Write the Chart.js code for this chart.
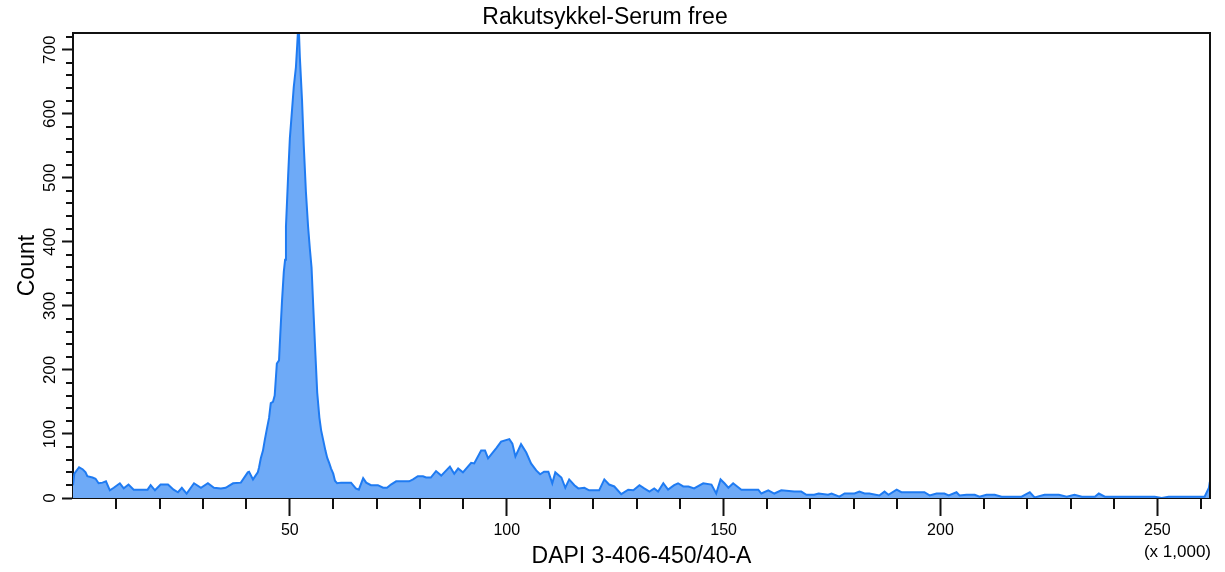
<!DOCTYPE html>
<html><head><meta charset="utf-8">
<script src="https://cdn.jsdelivr.net/npm/chart.js@4.4.1/dist/chart.umd.min.js"></script>
<style>html,body{margin:0;padding:0;background:#fff;}#wrap{width:1225px;height:572px;position:relative;}</style>
</head><body><div id="wrap"><canvas id="c" width="1225" height="572"></canvas></div>
<script>
const chartTitle = 'Rakutsykkel-Serum free';
const xAxisTitle = 'DAPI 3-406-450/40-A';
const yAxisTitle = 'Count';
const xUnitNote = '(x 1,000)';
const xMajorTicks = [50, 100, 150, 200, 250];
const yMajorTicks = [0, 100, 200, 300, 400, 500, 600, 700];
const xMinorStep = 10;
const yMinorStep = 20;
const xMax = 262.144;
const yMax = 726;

// DAPI (x 1,000) and counts, segment by segment
const subG1X = [0,0.3,1.4,2.2,2.9,3.3,4.5,5.2,5.9,6.8,7.6,8.5,9.4,10.8,11.7,12.8,14.0,15.6,17.2,17.9,18.9,20.2,21.9,23.2,24.2,25.1,26.2,27.9,29.5,31.1,32.5,34.1,35.2,36.9,38.7,40.3,40.6,41.5,42.6,42.9];
const subG1Y = [20,38,48,45,40,34,32,30,23,24,26,12,16,23,15,21,13,13,13,20,12,21,21,13,9,16,7,23,16,23,16,15,16,23,24,40,41,29,40,48];
const g1X = [43.3,43.8,44.2,44.7,45.2,45.6,46.1,46.5,47.0,47.5,47.8,48.2,48.6,48.9,49.1,49.6,50.0,50.5,50.9,51.4,51.7,52.0,52.3,52.8,53.2,53.7,54.2,54.6,55.0,55.4,55.9,56.3,56.8,57.2,57.7,58.2,58.6,59.1,59.5,60.0,60.4,60.9];
const g1Y = [62,74,90,108,125,148,150,160,210,215,257,309,353,372,424,503,562,606,642,673,708,745,689,622,551,478,424,390,360,298,223,165,126,106,90,74,63,54,46,38,27,23];
const sG2X = [61.8,62.9,64.1,65.2,65.9,66.9,67.6,68.7,70.3,71.5,72.4,73.3,74.5,76.1,77.5,78.4,79.5,80.7,81.4,82.5,83.7,84.9,86.9,87.9,88.8,89.9,91.8,92.5,94.1,95.0,95.7,97.6,98.7,100.6,101.3,102.0,103.3,104.5,105.6,106.8,107.7,108.6,109.6];
const sG2Y = [24,24,24,15,13,31,24,20,20,16,16,21,26,26,26,29,34,34,32,32,42,35,49,38,46,40,55,54,74,74,62,78,88,92,85,65,84,71,54,43,37,41,41];
const tailAX = [110.5,111.2,112.6,113.5,114.4,115.6,116.5,117.9,119.0,121.3,122.5,123.6,124.8,126.4,128.0,129.2,130.6,131.7,132.9,134.0,134.9,136.1,137.2,138.6,139.5,140.7,141.9,143.2,145.3,147.2,148.3,149.3,150.2,151.1,152.2,154.1,156.4,158.0,158.7];
const tailAY = [23,40,32,16,29,20,15,16,12,12,29,21,18,6,13,12,20,15,10,15,10,23,13,20,23,18,18,15,23,21,7,29,23,16,23,13,13,13,7];
const tailBX = [160.3,161.7,163.3,166.3,167.9,169.1,170.9,171.9,174.1,174.9,176.7,177.9,180.2,181.3,182.5,183.6,185.9,187.1,188.0,189.9,191.0,192.6,194.5,196.3,197.5,199.1,200.9,201.9,203.7,204.4,206.0,207.9,209.0,210.6,212.5,214.1,218.7,220.6,221.7,224.0,227.3,229.1,230.9,232.6,235.6,236.5,237.9,244.1,249.4,251.0,252.6,259.1,260.9,261.9,262.1];
const tailBY = [12,7,12,10,10,5,5,7,5,7,2,7,7,10,7,7,4,10,5,13,9,9,9,9,4,7,7,4,9,4,5,5,2,5,5,2,2,9,1,5,5,2,5,2,2,7,2,2,2,0,2,2,2,16,25];

const allX = [].concat(subG1X, g1X, sG2X, tailAX, tailBX);
const allY = [].concat(subG1Y, g1Y, sG2Y, tailAY, tailBY);
const points = allX.map((x, i) => ({x: x, y: allY[i]}));

const FONT = "'Liberation Sans', Arial, sans-serif";
const INK = '#111111';

const framePlugin = {
  id: 'frame',
  afterDraw(chart) {
    const ctx = chart.ctx;
    const a = chart.chartArea;
    const xs = chart.scales.x, ys = chart.scales.y;
    ctx.save();
    ctx.strokeStyle = INK;
    ctx.lineWidth = 2;
    ctx.beginPath();
    ctx.moveTo(a.left - 1, a.top);
    ctx.lineTo(a.right, a.top);
    ctx.lineTo(a.right, a.bottom + 1);
    ctx.stroke();
    ctx.beginPath();
    for (let v = yMinorStep; v <= yMax; v += yMinorStep) {
      if (v % 100 === 0) continue;
      const p = Math.round(ys.getPixelForValue(v));
      ctx.moveTo(a.left - 7, p);
      ctx.lineTo(a.left, p);
    }
    for (let v = xMinorStep; v <= xMax; v += xMinorStep) {
      if (v % 50 === 0) continue;
      const p = Math.round(xs.getPixelForValue(v));
      ctx.moveTo(p, a.bottom);
      ctx.lineTo(p, a.bottom + 11);
    }
    ctx.stroke();
    ctx.fillStyle = '#000';
    ctx.font = '17px ' + FONT;
    ctx.textAlign = 'center';
    ctx.textBaseline = 'middle';
    yMajorTicks.forEach(v => {
      const p = ys.getPixelForValue(v);
      ctx.save();
      ctx.translate(50, p);
      ctx.rotate(-Math.PI / 2);
      ctx.fillText(String(v), 0, 0);
      ctx.restore();
    });
    ctx.font = '17px ' + FONT;
    ctx.textAlign = 'right';
    ctx.fillText(xUnitNote, a.right + 1, 552);
    ctx.restore();
  }
};

new Chart(document.getElementById('c'), {
  type: 'line',
  data: {
    datasets: [{
      data: points,
      borderColor: '#1f7bf2',
      backgroundColor: '#6eaaf7',
      borderWidth: 2,
      pointRadius: 0,
      tension: 0,
      fill: 'origin'
    }]
  },
  options: {
    responsive: false,
    animation: false,
    layout: {padding: {left: 0, right: 15, top: 0, bottom: 0}},
    plugins: {
      legend: {display: false},
      tooltip: {enabled: false},
      title: {
        display: true,
        text: chartTitle,
        color: '#000',
        font: {family: FONT, size: 23, weight: 'normal', lineHeight: 1.2},
        padding: {top: 4, bottom: 1.5}
      }
    },
    scales: {
      x: {
        type: 'linear',
        position: 'bottom',
        min: 0,
        max: xMax,
        afterFit(s) { s.height = 74; },
        afterBuildTicks(s) { s.ticks = xMajorTicks.map(v => ({value: v})); },
        ticks: {color: '#000', font: {family: FONT, size: 16}, padding: 5, maxRotation: 0, autoSkip: false},
        grid: {display: true, drawOnChartArea: false, drawTicks: true, tickLength: 18, tickWidth: 2, tickColor: INK},
        border: {display: true, color: INK, width: 2},
        title: {display: true, text: xAxisTitle, color: '#000', font: {family: FONT, size: 23}, padding: {top: 0, bottom: 2}}
      },
      y: {
        type: 'linear',
        position: 'left',
        min: 0,
        max: yMax,
        afterFit(s) { s.width = 73; },
        afterBuildTicks(s) { s.ticks = yMajorTicks.map(v => ({value: v})); },
        ticks: {display: false},
        grid: {display: true, drawOnChartArea: false, drawTicks: true, tickLength: 11, tickWidth: 2, tickColor: INK},
        border: {display: true, color: INK, width: 2},
        title: {display: true, text: yAxisTitle, color: '#000', font: {family: FONT, size: 23}, padding: {top: 14, bottom: 0}}
      }
    }
  },
  plugins: [framePlugin]
});
</script>
</body></html>
